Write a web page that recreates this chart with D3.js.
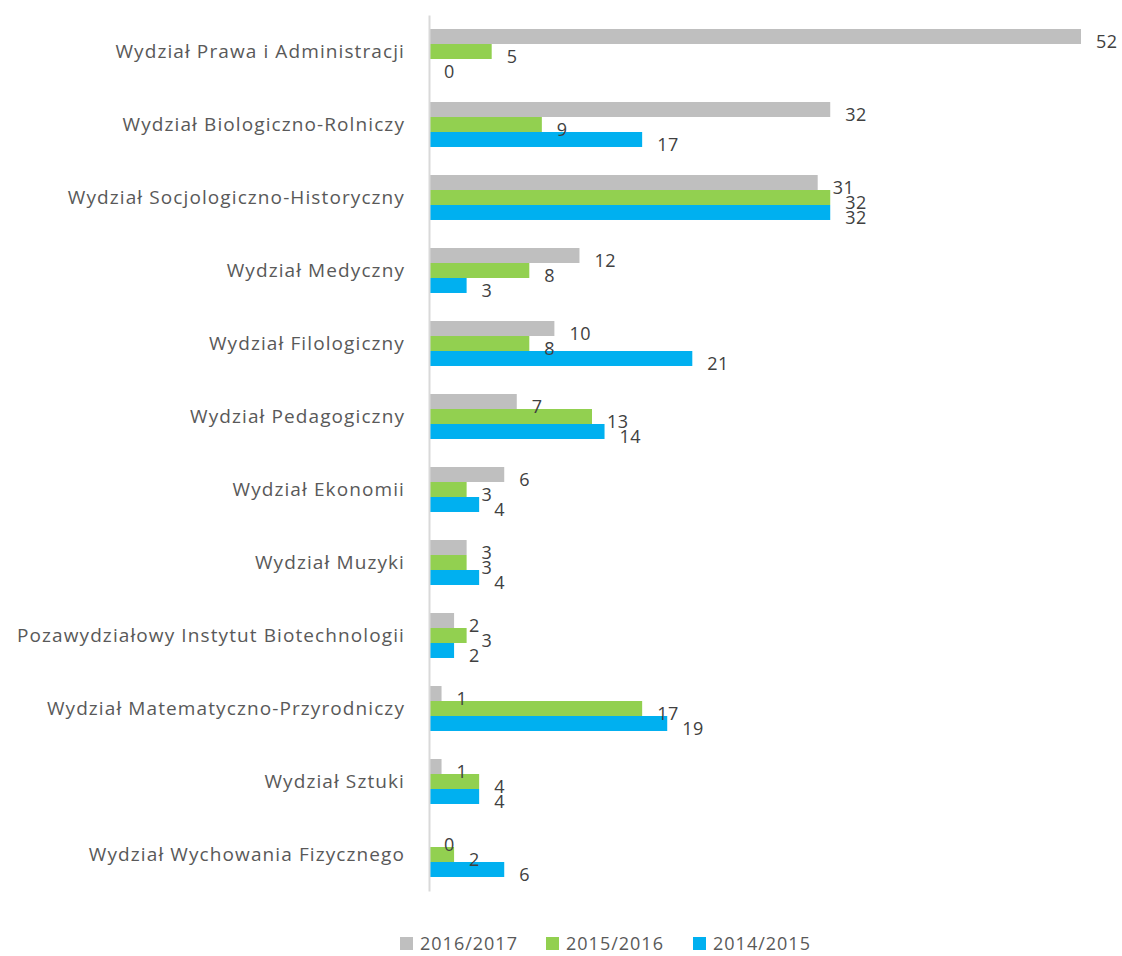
<!DOCTYPE html>
<html>
<head>
<meta charset="utf-8">
<style>
  body { margin: 0; background: #fff; font-family: "Open Sans", sans-serif; }
  .axis text { fill: #595959; font-size: 19px; letter-spacing: 1.1px; }
  .lbl { fill: #404040; font-size: 18px; letter-spacing: 0.5px; }
  .legend text { fill: #595959; font-size: 18px; letter-spacing: 1px; }
</style>
<script src="https://d3js.org/d3.v7.min.js"></script>
</head>
<body>
<div id="chart"></div>
<script>

const categories = [
  'Wydział Prawa i Administracji',
  'Wydział Biologiczno-Rolniczy',
  'Wydział Socjologiczno-Historyczny',
  'Wydział Medyczny',
  'Wydział Filologiczny',
  'Wydział Pedagogiczny',
  'Wydział Ekonomii',
  'Wydział Muzyki',
  'Pozawydziałowy Instytut Biotechnologii',
  'Wydział Matematyczno-Przyrodniczy',
  'Wydział Sztuki',
  'Wydział Wychowania Fizycznego'
]
const seriesNames = ['2016/2017', '2015/2016', '2014/2015']
const v2016 = [52, 32, 31, 12, 10, 7, 6, 3, 2, 1, 1, 0]
const v2015 = [5, 9, 32, 8, 8, 13, 3, 3, 3, 17, 4, 2]
const v2014 = [0, 17, 32, 3, 21, 14, 4, 4, 2, 19, 4, 6]
const colors = ['#bfbfbf', '#92d050', '#00b0f0']

const width = 1122, height = 956

const svg = d3.select('#chart').append('svg')
  .attr('width', width)
  .attr('height', height)

const x = d3.scaleLinear().domain([0, 52]).range([429, 1081])

const y = d3.scaleBand()
  .domain(categories)
  .range([15, 891])
  .paddingInner(0.384)
  .paddingOuter(0.192)

const ySub = d3.scaleBand()
  .domain(seriesNames)
  .range([0, y.bandwidth()])

const rows = categories.map((c, i) => ({
  cat: c,
  vals: [v2016[i], v2015[i], v2014[i]]
}))

// bars
const groups = svg.append('g').selectAll('g')
  .data(rows)
  .join('g')
  .attr('transform', d => 'translate(0,' + y(d.cat) + ')')

groups.selectAll('rect')
  .data(d => d.vals.map((v, k) => ({v: v, s: seriesNames[k], k: k})))
  .join('rect')
  .attr('x', x(0))
  .attr('y', d => ySub(d.s))
  .attr('width', d => x(d.v) - x(0))
  .attr('height', ySub.bandwidth())
  .attr('fill', d => colors[d.k])

// value labels
groups.selectAll('text')
  .data(d => d.vals.map((v, k) => ({v: v, s: seriesNames[k]})))
  .join('text')
  .attr('class', 'lbl')
  .attr('x', d => x(d.v) + 15)
  .attr('y', d => ySub(d.s) + ySub.bandwidth() / 2 + 5)
  .attr('dy', '0.35em')
  .text(d => d.v)

// category axis
const axis = svg.append('g')
  .attr('class', 'axis')
  .attr('transform', 'translate(' + x(0) + ',0)')
  .call(d3.axisLeft(y).tickSize(0).tickSizeOuter(0).tickPadding(24))

axis.select('.domain').attr('stroke', '#d9d9d9').attr('stroke-width', 2)
axis.selectAll('text').style('font-family', '"Open Sans", sans-serif').attr('font-size', null)

// legend
const legend = svg.append('g').attr('class', 'legend')
const legX = [400, 546, 693]
seriesNames.forEach((s, k) => {
  const g = legend.append('g').attr('transform', 'translate(' + legX[k] + ',937)')
  g.append('rect').attr('width', 13).attr('height', 13).attr('fill', colors[k])
  g.append('text').attr('x', 20).attr('y', 7).attr('dy', '0.35em').text(s)
})

</script>
</body>
</html>
